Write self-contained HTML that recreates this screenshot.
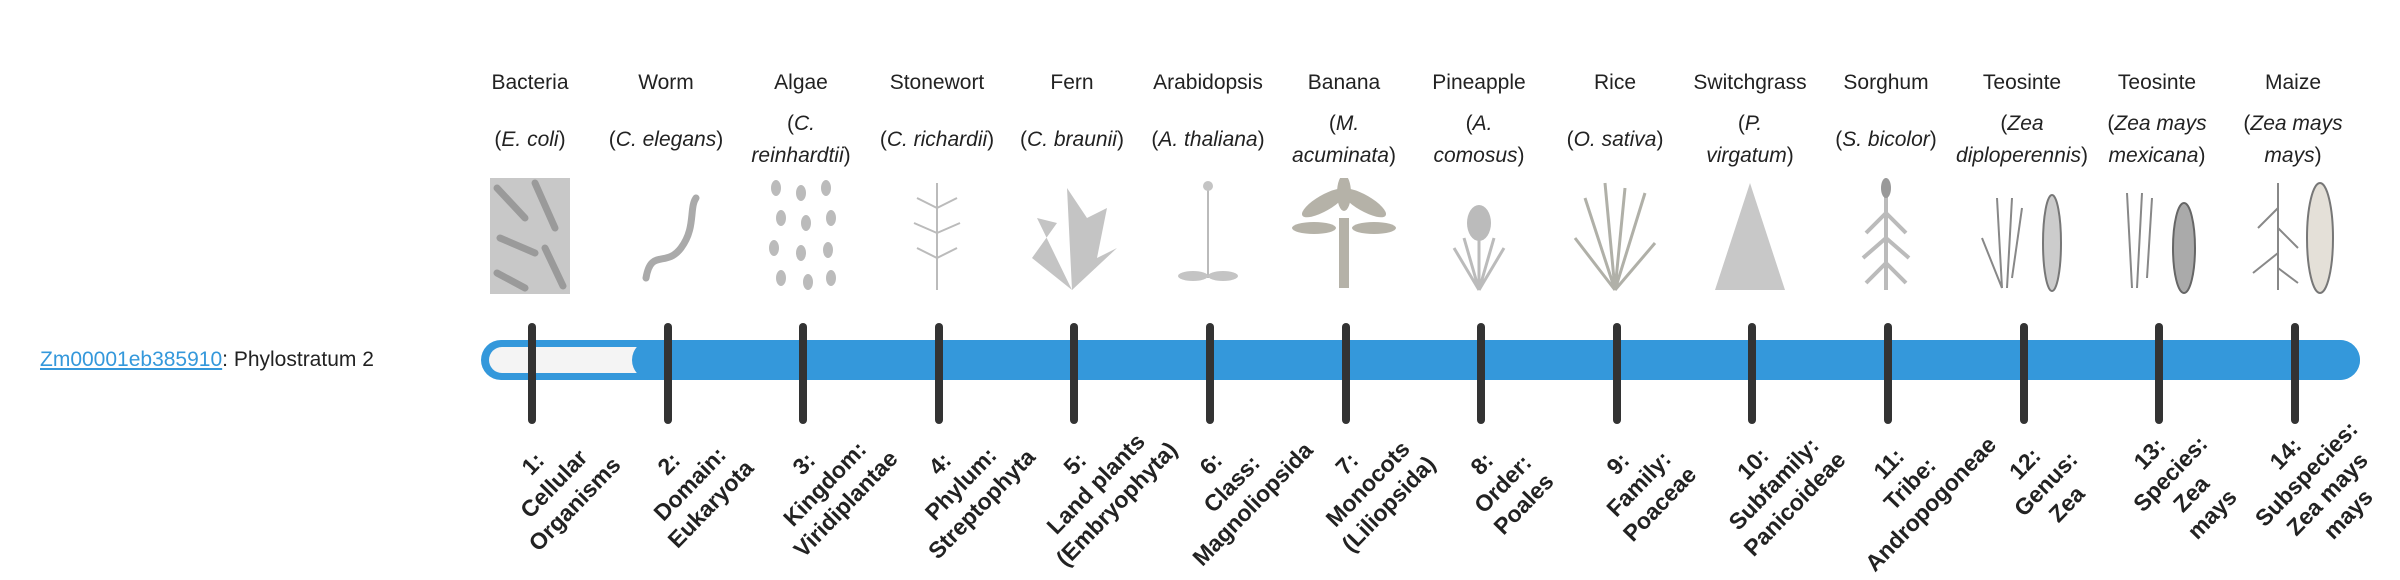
<!DOCTYPE html>
<html><head><meta charset="utf-8">
<style>
html,body{margin:0;padding:0;background:#fff;}
body{width:2400px;height:580px;position:relative;overflow:hidden;font-family:"Liberation Sans",sans-serif;color:#222;}
.nm{position:absolute;top:70px;width:150px;margin-left:-75px;text-align:center;font-size:21px;line-height:26px;white-space:nowrap;}
.sp{position:absolute;top:108px;height:64px;width:140px;margin-left:-70px;display:flex;align-items:center;justify-content:center;text-align:center;font-size:21px;line-height:32px;}
.sp i{font-style:italic;}
.im{position:absolute;top:178px;width:110px;height:116px;margin-left:-55px;}
.tk{position:absolute;top:323px;width:8px;height:101px;margin-left:-4px;background:#333;border-radius:4px;}
.lb{position:absolute;top:484px;transform:translate(-50%,-50%) rotate(-46deg);text-align:center;font-weight:bold;font-size:23px;line-height:29px;white-space:nowrap;color:#222;}
</style></head><body>
<div style="position:absolute;left:40px;top:346px;font-size:21px;line-height:28px;white-space:nowrap;"><span style="color:#3498db;text-decoration:underline;">Zm00001eb385910</span>: Phylostratum 2</div>

<div style="position:absolute;left:481px;top:340px;width:1879px;height:40px;background:#3498db;border-radius:20px;"></div>
<div style="position:absolute;left:489px;top:347px;width:170px;height:26px;background:#f4f4f4;border-radius:13px;"></div>
<div style="position:absolute;left:632px;top:340px;width:1728px;height:40px;background:#3498db;border-radius:20px;"></div>

<div class="nm" style="left:530px">Bacteria</div>
<div class="nm" style="left:666px">Worm</div>
<div class="nm" style="left:801px">Algae</div>
<div class="nm" style="left:937px">Stonewort</div>
<div class="nm" style="left:1072px">Fern</div>
<div class="nm" style="left:1208px">Arabidopsis</div>
<div class="nm" style="left:1344px">Banana</div>
<div class="nm" style="left:1479px">Pineapple</div>
<div class="nm" style="left:1615px">Rice</div>
<div class="nm" style="left:1750px">Switchgrass</div>
<div class="nm" style="left:1886px">Sorghum</div>
<div class="nm" style="left:2022px">Teosinte</div>
<div class="nm" style="left:2157px">Teosinte</div>
<div class="nm" style="left:2293px">Maize</div>

<div class="sp" style="left:530px"><span>(<i>E. coli</i>)</span></div>
<div class="sp" style="left:666px"><span>(<i>C. elegans</i>)</span></div>
<div class="sp" style="left:801px"><span>(<i>C.<br>reinhardtii</i>)</span></div>
<div class="sp" style="left:937px"><span>(<i>C. richardii</i>)</span></div>
<div class="sp" style="left:1072px"><span>(<i>C. braunii</i>)</span></div>
<div class="sp" style="left:1208px"><span>(<i>A. thaliana</i>)</span></div>
<div class="sp" style="left:1344px"><span>(<i>M.<br>acuminata</i>)</span></div>
<div class="sp" style="left:1479px"><span>(<i>A.<br>comosus</i>)</span></div>
<div class="sp" style="left:1615px"><span>(<i>O. sativa</i>)</span></div>
<div class="sp" style="left:1750px"><span>(<i>P.<br>virgatum</i>)</span></div>
<div class="sp" style="left:1886px"><span>(<i>S. bicolor</i>)</span></div>
<div class="sp" style="left:2022px"><span>(<i>Zea<br>diploperennis</i>)</span></div>
<div class="sp" style="left:2157px"><span>(<i>Zea mays<br>mexicana</i>)</span></div>
<div class="sp" style="left:2293px"><span>(<i>Zea mays<br>mays</i>)</span></div>

<svg class="im" style="left:530px" viewBox="0 0 110 116"><rect x="15" y="0" width="80" height="116" fill="#c8c8c8"/><g stroke="#9a9a9a" stroke-width="7" stroke-linecap="round"><line x1="22" y1="10" x2="50" y2="40"/><line x1="60" y1="5" x2="80" y2="50"/><line x1="25" y1="60" x2="60" y2="75"/><line x1="70" y1="70" x2="88" y2="108"/><line x1="22" y1="95" x2="50" y2="110"/></g></svg>
<svg class="im" style="left:666px" viewBox="0 0 110 116"><path d="M35 100 C40 70,55 90,70 70 C85 50,78 30,85 20" stroke="#aaa" stroke-width="7" fill="none" stroke-linecap="round"/></svg>
<svg class="im" style="left:801px" viewBox="0 0 110 116"><g fill="#bbb"><ellipse cx="30" cy="10" rx="5" ry="8"/><ellipse cx="55" cy="15" rx="5" ry="8"/><ellipse cx="80" cy="10" rx="5" ry="8"/><ellipse cx="35" cy="40" rx="5" ry="8"/><ellipse cx="60" cy="45" rx="5" ry="8"/><ellipse cx="85" cy="40" rx="5" ry="8"/><ellipse cx="28" cy="70" rx="5" ry="8"/><ellipse cx="55" cy="75" rx="5" ry="8"/><ellipse cx="82" cy="72" rx="5" ry="8"/><ellipse cx="35" cy="100" rx="5" ry="8"/><ellipse cx="62" cy="104" rx="5" ry="8"/><ellipse cx="85" cy="100" rx="5" ry="8"/></g></svg>
<svg class="im" style="left:937px" viewBox="0 0 110 116"><g stroke="#bbb" stroke-width="2" fill="none"><line x1="55" y1="5" x2="55" y2="112"/><path d="M55 30 L35 20 M55 30 L75 20 M55 55 L32 45 M55 55 L78 45 M55 80 L35 70 M55 80 L75 70"/></g></svg>
<svg class="im" style="left:1072px" viewBox="0 0 110 116"><g fill="#c4c4c4"><path d="M55 112 L50 10 L70 40 L90 30 L80 80 L100 70 Z"/><path d="M55 112 L20 40 L40 45 L15 80 Z"/></g></svg>
<svg class="im" style="left:1208px" viewBox="0 0 110 116"><g stroke="#bbb" stroke-width="2" fill="none"><line x1="55" y1="5" x2="55" y2="100"/></g><g fill="#c4c4c4"><ellipse cx="40" cy="98" rx="15" ry="5"/><ellipse cx="70" cy="98" rx="15" ry="5"/><circle cx="55" cy="8" r="5"/></g></svg>
<svg class="im" style="left:1344px" viewBox="0 0 110 116"><g fill="#b5b2a8"><rect x="50" y="40" width="10" height="70"/><ellipse cx="35" cy="25" rx="25" ry="8" transform="rotate(-30 35 25)"/><ellipse cx="75" cy="25" rx="25" ry="8" transform="rotate(30 75 25)"/><ellipse cx="55" cy="15" rx="7" ry="18"/><ellipse cx="25" cy="50" rx="22" ry="6"/><ellipse cx="85" cy="50" rx="22" ry="6"/></g></svg>
<svg class="im" style="left:1479px" viewBox="0 0 110 116"><g fill="#bbb"><ellipse cx="55" cy="45" rx="12" ry="18"/></g><g stroke="#bbb" stroke-width="3" fill="none"><path d="M55 112 L30 70 M55 112 L80 70 M55 112 L40 60 M55 112 L70 60 M55 112 L55 60"/></g></svg>
<svg class="im" style="left:1615px" viewBox="0 0 110 116"><g stroke="#b0b0a8" stroke-width="3" fill="none"><path d="M55 112 L25 20 M55 112 L85 15 M55 112 L45 5 M55 112 L65 10 M55 112 L15 60 M55 112 L95 65"/></g></svg>
<svg class="im" style="left:1750px" viewBox="0 0 110 116"><g fill="#c8c8c8"><path d="M55 5 L20 112 L90 112 Z"/></g></svg>
<svg class="im" style="left:1886px" viewBox="0 0 110 116"><g stroke="#bbb" stroke-width="4" fill="none"><line x1="55" y1="10" x2="55" y2="112"/><path d="M55 35 L35 55 M55 35 L75 55 M55 60 L32 80 M55 60 L78 80 M55 85 L35 105 M55 85 L75 105"/></g><ellipse cx="55" cy="10" rx="5" ry="10" fill="#999"/></svg>
<svg class="im" style="left:2022px" viewBox="0 0 110 116"><g stroke="#888" stroke-width="2" fill="none"><path d="M15 60 L35 110 M30 20 L35 110 M45 20 L40 110 M55 30 L45 100"/></g><ellipse cx="85" cy="65" rx="9" ry="48" fill="#ccc" stroke="#777" stroke-width="2"/></svg>
<svg class="im" style="left:2157px" viewBox="0 0 110 116"><g stroke="#888" stroke-width="2" fill="none"><path d="M25 15 L30 110 M40 15 L35 110 M50 20 L45 100"/></g><ellipse cx="82" cy="70" rx="11" ry="45" fill="#aaa" stroke="#666" stroke-width="2"/></svg>
<svg class="im" style="left:2293px" viewBox="0 0 110 116"><g stroke="#888" stroke-width="2" fill="none"><path d="M40 5 L40 112 M40 30 L20 50 M40 50 L60 70 M40 75 L15 95 M40 90 L60 105"/></g><ellipse cx="82" cy="60" rx="13" ry="55" fill="#e4e0d8" stroke="#777" stroke-width="2"/></svg>

<div class="tk" style="left:532px"></div>
<div class="tk" style="left:668px"></div>
<div class="tk" style="left:803px"></div>
<div class="tk" style="left:939px"></div>
<div class="tk" style="left:1074px"></div>
<div class="tk" style="left:1210px"></div>
<div class="tk" style="left:1346px"></div>
<div class="tk" style="left:1481px"></div>
<div class="tk" style="left:1617px"></div>
<div class="tk" style="left:1752px"></div>
<div class="tk" style="left:1888px"></div>
<div class="tk" style="left:2024px"></div>
<div class="tk" style="left:2159px"></div>
<div class="tk" style="left:2295px"></div>

<div class="lb" style="left:554px">1:<br>Cellular<br>Organisms</div>
<div class="lb" style="left:690px">2:<br>Domain:<br>Eukaryota</div>
<div class="lb" style="left:825px">3:<br>Kingdom:<br>Viridiplantae</div>
<div class="lb" style="left:961px">4:<br>Phylum:<br>Streptophyta</div>
<div class="lb" style="left:1096px">5:<br>Land plants<br>(Embryophyta)</div>
<div class="lb" style="left:1232px">6:<br>Class:<br>Magnoliopsida</div>
<div class="lb" style="left:1368px">7:<br>Monocots<br>(Liliopsida)</div>
<div class="lb" style="left:1503px">8:<br>Order:<br>Poales</div>
<div class="lb" style="left:1639px">9:<br>Family:<br>Poaceae</div>
<div class="lb" style="left:1774px">10:<br>Subfamily:<br>Panicoideae</div>
<div class="lb" style="left:1910px">11:<br>Tribe:<br>Andropogoneae</div>
<div class="lb" style="left:2046px">12:<br>Genus:<br>Zea</div>
<div class="lb" style="left:2181px">13:<br>Species:<br>Zea<br>mays</div>
<div class="lb" style="left:2317px">14:<br>Subspecies:<br>Zea mays<br>mays</div>
</body></html>
